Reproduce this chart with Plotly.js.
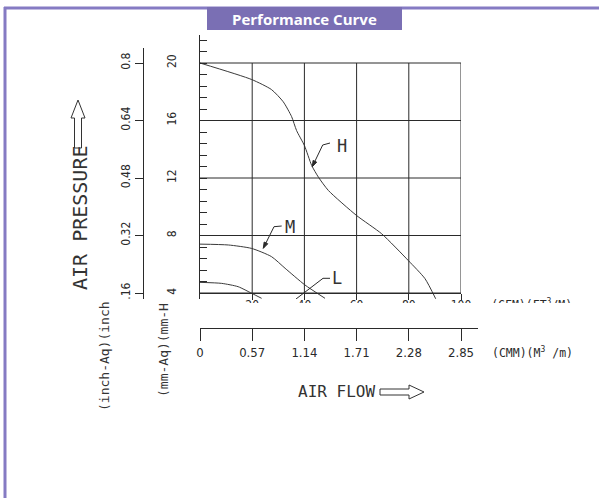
<!DOCTYPE html>
<html><head><meta charset="utf-8">
<script src="https://cdn.plot.ly/plotly-3.0.1.min.js"></script>
<style>html,body{margin:0;padding:0;background:#fff}#chart{width:599px;height:498px}</style>
</head><body><div id="chart"></div>
<script>
// ---- data ----
const cfmH = [0, 19.8, 27.4, 31.9, 35.1, 37.0, 40, 42.8, 45.4, 49.2, 60, 69.6, 79.8, 86.2, 90.3];
const mmH  = [20, 18.85, 18.15, 17.3, 16.27, 15.3, 14.26, 12.87, 12.05, 11.13, 9.39, 8.12, 6.26, 5.0, 3.6];
const cfmM = [0, 10.9, 19.8, 27.4, 32.6, 40.2, 47.9];
const mmM  = [7.4, 7.34, 7.1, 6.53, 5.72, 4.56, 3.63];
const cfmL = [0, 8.3, 14.6, 19.8, 23.6];
const mmL  = [4.74, 4.67, 4.44, 3.98, 3.63];
const mmTicks = [4, 8, 12, 16, 20];
const inchTicks = [0.16, 0.32, 0.48, 0.64, 0.8];
const inchLabels = ['.16', '0.32', '0.48', '0.64', '0.8'];
const cfmTicks = [20, 40, 60, 80, 100];
const cfmLabels = ['20', '40', '60', '80', '100'];
const cmmTicks = [0, 0.57, 1.14, 1.71, 2.28, 2.85];
const cmmLabels = ['0', '0.57', '1.14', '1.71', '2.28', '2.85'];
const curveNames = ['H', 'M', 'L'];

// ---- helpers for page placement ----
const W = 599, HT = 498;
const fx = p => p / W;
const fy = p => 1 - p / HT;
// main plot pixel mapping (for decorations only)
const X0 = 200, XS = 2.61, Y4 = 293, YS = 14.375;
const dX = px => (px - X0) / XS;
const dY = py => 4 + (Y4 - py) / YS;

const ink = '#2a2a2a';
const narrow = 'Liberation Sans Narrow, DejaVu Sans Condensed, Arial Narrow, sans-serif';
const cad = 'DejaVu Sans Mono, Liberation Mono, monospace';

const traces = [
  {x: cfmH, y: mmH, name: curveNames[0]},
  {x: cfmM, y: mmM, name: curveNames[1]},
  {x: cfmL, y: mmL, name: curveNames[2]}
].map(t => Object.assign(t, {type: 'scatter', mode: 'lines', xaxis: 'x', yaxis: 'y',
  line: {color: '#3a3a3a', width: 1, shape: 'spline', smoothing: 0.6}, hoverinfo: 'skip'}));

// CFM unit label, drawn in a hidden helper subplot so that the white band can crop it like in the reference
traces.push({type: 'scatter', mode: 'text', x: [0.47], y: [0.46], text: ['(CFM)(FT<sup>3</sup>/M)'],
  textfont: {family: cad, size: 11.5, color: ink}, cliponaxis: false, hoverinfo: 'skip', xaxis: 'x3', yaxis: 'y3'});
// empty trace so the secondary (inch / CMM) axes form a drawn subplot
traces.push({type: 'scatter', mode: 'lines', x: [], y: [], xaxis: 'x2', yaxis: 'y2', hoverinfo: 'skip'});

const shapes = [];
// grid
mmTicks.forEach(v => shapes.push({type: 'line', xref: 'x', yref: 'y', x0: 0, x1: 100, y0: v, y1: v, line: {color: ink, width: 1}}));
cfmTicks.forEach(v => shapes.push({type: 'line', xref: 'x', yref: 'y', x0: v, x1: v, y0: 4, y1: 20, line: {color: ink, width: 1}}));

// leader lines with small arrowheads (pixel points converted to data)
function leader(pts) {
  const p = pts.map(q => `${dX(q[0])},${dY(q[1])}`);
  shapes.push({type: 'path', xref: 'x', yref: 'y', path: 'M' + p.join(' L'), line: {color: ink, width: 1}});
}
function head(tip, from) {
  const dx = tip[0] - from[0], dy = tip[1] - from[1], n = Math.hypot(dx, dy);
  const ux = dx / n, uy = dy / n, L = 6, w = 2;
  const bx = tip[0] - ux * L, by = tip[1] - uy * L;
  const a = [bx - uy * w, by + ux * w], b = [bx + uy * w, by - ux * w];
  const s = [tip, a, b].map(q => `${dX(q[0])},${dY(q[1])}`);
  shapes.push({type: 'path', xref: 'x', yref: 'y', path: `M${s[0]} L${s[1]} L${s[2]} Z`, fillcolor: ink, line: {color: ink, width: 1}});
}
leader([[312.3, 166.7], [322.7, 145], [330, 143]]); head([312.3, 166.7], [322.7, 145]);
leader([[263.3, 248.3], [274, 226.7], [281.7, 226]]); head([263.3, 248.3], [274, 226.7]);
leader([[296, 299], [323, 278.3], [330, 278.3]]);

// white band erasing the lower edge of the CFM labels (as in the reference)
shapes.push({type: 'rect', xref: 'paper', yref: 'paper', x0: fx(205), x1: 1, y0: fy(318), y1: fy(303), fillcolor: '#fff', line: {width: 0}, layer: 'above'});

// frame lines
shapes.push({type: 'line', xref: 'paper', yref: 'paper', x0: fx(4), x1: 1, y0: fy(8), y1: fy(8), line: {color: '#857bc3', width: 3}});
shapes.push({type: 'line', xref: 'paper', yref: 'paper', x0: fx(5), x1: fx(5), y0: fy(7), y1: 0, line: {color: '#857bc3', width: 3}});
// title box
shapes.push({type: 'rect', xref: 'paper', yref: 'paper', x0: fx(207), x1: fx(402), y0: fy(30), y1: fy(7), fillcolor: '#7a6fb4', line: {width: 0}});

// outline arrows (paper coords)
function pathPx(pts) { return 'M' + pts.map(q => `${fx(q[0])},${fy(q[1])}`).join(' L') + ' Z'; }
shapes.push({type: 'path', xref: 'paper', yref: 'paper', fillcolor: '#fff', line: {color: '#333', width: 1},
  path: pathPx([[74.5, 148], [74.5, 118], [71, 118], [78, 100], [85, 118], [81.5, 118], [81.5, 148]])});
shapes.push({type: 'path', xref: 'paper', yref: 'paper', fillcolor: '#fff', line: {color: '#333', width: 1},
  path: pathPx([[380, 389], [409, 389], [409, 385], [424, 392], [409, 399], [409, 395], [380, 395]])});

const annotations = [
  {x: fx(304.5), y: fy(18.5), text: '<b>Performance Curve</b>', font: {family: 'Open Sans, DejaVu Sans, sans-serif', size: 15, color: '#fff'}},
  {x: fx(80), y: fy(218), text: 'AIR PRESSURE', textangle: -90, font: {family: cad, size: 20, color: '#333'}},
  {x: fx(336), y: fy(391), text: 'AIR FLOW', font: {family: cad, size: 16, color: '#333'}},
  {x: fx(532), y: fy(352), text: '(CMM)(M<sup>3</sup> /m)', font: {family: cad, size: 11.5, color: ink}},
  {x: fx(104), y: fy(356), text: '(inch-Aq)(inch', textangle: -90, font: {family: cad, size: 13, color: '#333'}},
  {x: fx(163), y: fy(350), text: '(mm-Aq)(mm-H', textangle: -90, font: {family: cad, size: 13, color: '#333'}},
  {x: fx(342), y: fy(146), text: curveNames[0], font: {family: cad, size: 17, color: '#333'}},
  {x: fx(290), y: fy(227), text: curveNames[1], font: {family: cad, size: 17, color: '#333'}},
  {x: fx(337), y: fy(278), text: curveNames[2], font: {family: cad, size: 17, color: '#333'}}
].map(a => Object.assign({xref: 'paper', yref: 'paper', showarrow: false, xanchor: 'center', yanchor: 'middle'}, a));

const axBase = {showgrid: false, zeroline: false, showline: true, linecolor: ink, linewidth: 1, tickcolor: ink, fixedrange: true};
const layout = {
  width: W, height: HT, margin: {l: 0, r: 0, t: 0, b: 0},
  paper_bgcolor: '#fff', plot_bgcolor: 'rgba(0,0,0,0)', showlegend: false,
  xaxis: Object.assign({}, axBase, {domain: [fx(200), fx(461)], range: [0, 100], anchor: 'free', position: fy(293),
    ticks: 'outside', ticklen: 6, ticklabelstandoff: -5, tickmode: 'array', tickvals: cfmTicks, ticktext: cfmLabels,
    tickfont: {family: narrow, size: 12, color: ink}}),
  yaxis: Object.assign({}, axBase, {domain: [fy(299), fy(35)], range: [dY(299), dY(35)], anchor: 'free', position: fx(199),
    ticks: 'inside', ticklen: 7, tickmode: 'linear', tick0: 4, dtick: 4, tickangle: -90, ticklabelstandoff: 18,
    minor: {ticks: 'inside', ticklen: 7, tick0: 4, dtick: 0.8, tickcolor: ink},
    tickfont: {family: narrow, size: 12, color: ink}}),
  yaxis2: Object.assign({}, axBase, {domain: [fy(299), fy(48)], range: [dY(299) * 0.04, dY(48) * 0.04], anchor: 'free', position: fx(143),
    side: 'left', ticks: 'outside', ticklen: 8, tickmode: 'array', tickvals: inchTicks, ticktext: inchLabels, tickangle: -90,
    tickfont: {family: narrow, size: 12, color: ink}}),
  xaxis2: Object.assign({}, axBase, {domain: [fx(200), fx(478)], range: [0, (478 - X0) / XS * 2.85 / 100], anchor: 'free', position: fy(328),
    side: 'bottom', ticks: 'outside', ticklen: 12, tickmode: 'array', tickvals: cmmTicks, ticktext: cmmLabels,
    tickfont: {family: narrow, size: 13, color: ink}}),
  xaxis3: {domain: [fx(480), fx(590)], range: [0, 1], visible: false, anchor: 'y3', fixedrange: true},
  yaxis3: {domain: [fy(320), fy(290)], range: [0, 1], visible: false, anchor: 'x3', fixedrange: true},
  shapes: shapes, annotations: annotations
};
Plotly.newPlot('chart', traces, layout, {staticPlot: true, displayModeBar: false});
</script></body></html>
